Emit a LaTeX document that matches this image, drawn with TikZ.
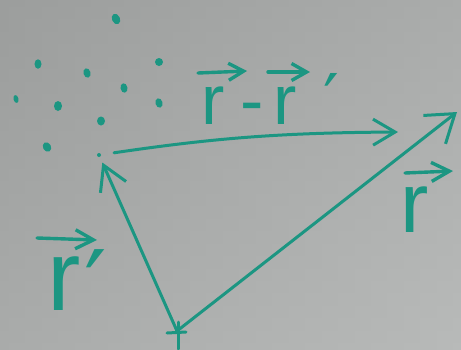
\documentclass[tikz,border=0pt]{standalone}
\usepackage{fontspec}
\newfontfamily\lsans{Liberation Sans}
\newfontfamily\dv{DejaVu Sans}
\usetikzlibrary{arrows.meta,shapes.geometric,calc}
\definecolor{ink}{RGB}{28,150,130}
\definecolor{boardA}{RGB}{156,158,157}
\definecolor{boardB}{RGB}{184,186,185}
\begin{document}
\begin{tikzpicture}[x=1pt,y=-1pt,
  stroke/.style={draw=ink, line width=3pt, line cap=round, line join=round},
  vecbar/.style={draw=ink, line width=3.4pt, line cap=round, line join=round,
    -{Straight Barb[length=15pt,width=17pt]}},
  blob/.style={ellipse, fill=ink, inner sep=0pt, minimum width=7pt, minimum height=9.5pt},
  lbl/.style={text=ink, inner sep=0pt, anchor=base west}
]
\useasboundingbox (0,0) rectangle (461,349);
\shade[top color=boardA, bottom color=boardB] (0,0) rectangle (461,349);
\shade[left color=boardA, right color=boardB, opacity=0.5] (0,0) rectangle (461,349);

% charge distribution dots
\node[blob, rotate=25, minimum width=8pt, minimum height=11pt] (d1) at (116,19) {};
\node[blob] (d2) at (38,64) {};
\node[blob, rotate=15] (d3) at (87,73) {};
\node[blob, minimum width=8pt, minimum height=8pt] (d4) at (159,62) {};
\node[blob, rotate=10] (d5) at (124,88) {};
\node[blob, rotate=15, minimum width=5pt, minimum height=8pt] (d6) at (16,99) {};
\node[blob, minimum width=8pt, minimum height=10pt] (d7) at (58,106) {};
\node[blob, rotate=15] (d8) at (159,103) {};
\node[blob, minimum width=8pt, minimum height=9pt] (d9) at (101,121) {};
\node[blob, rotate=30, minimum width=8pt, minimum height=10pt] (d10) at (47,147) {};

% field point, origin, tips
\node[circle, fill=ink, inner sep=0pt, minimum size=4pt] (P) at (99,155) {};
\coordinate (O) at (177,331);
\coordinate (T) at (398,132);
\coordinate (R) at (457,112);

% origin cross
\draw[stroke] ($(O)+(-10,2)$) -- ($(O)+(9,1)$);
\draw[stroke] ($(O)+(1,-9)$) -- ($(O)+(1,18)$);

% vectors
\draw[stroke, -{Straight Barb[length=22pt,width=26pt]}, shorten <=13pt] (P) to[bend left=4] (T);
\draw[stroke, -{Straight Barb[length=24pt,width=28pt]}, shorten >=6pt] (O) -- (P);
\draw[stroke, -{Straight Barb[length=26pt,width=36pt]}] (O) -- (R);

% labels
\node[lbl, font=\lsans\fontsize{70}{70}\selectfont] (lrr) at (201,124) {r\kern16pt-\kern10pt r\kern26pt{\dv ′}};
\node[lbl, font=\lsans\fontsize{100}{100}\selectfont] (lrp) at (47,310) {r\kern4pt\raisebox{-12pt}{\dv ′}};
\node[lbl, font=\lsans\fontsize{85}{85}\selectfont] (lr) at (400,232) {r};

% vector arrows over the letters
\draw[vecbar] (198,73) -- (247,71);
\draw[vecbar] (268,72) -- (310,72);
\draw[vecbar, -{Straight Barb[length=18pt,width=19pt]}] (37,238) -- (97,240);
\draw[vecbar, -{Straight Barb[length=18pt,width=19pt]}] (405,173) -- (453,171);
\end{tikzpicture}
\end{document}
